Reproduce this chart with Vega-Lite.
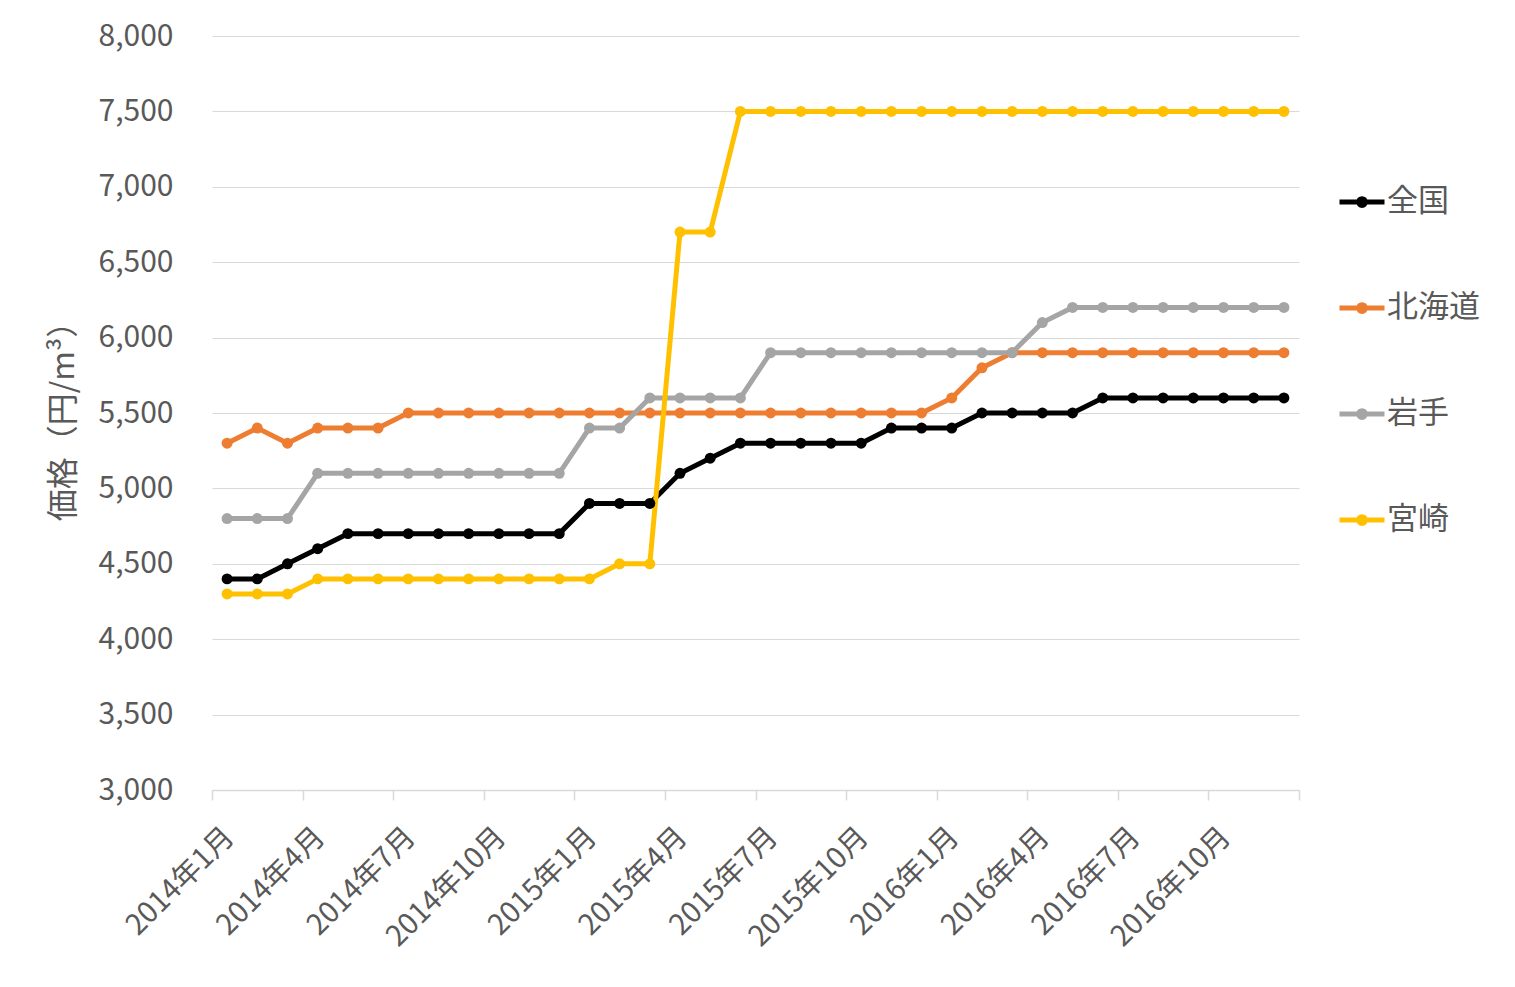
{
  "$schema": "https://vega.github.io/schema/vega-lite/v6.json",
  "autosize": {"type": "none"},
  "padding": {"left": 212, "top": 36, "right": 216, "bottom": 197},
  "width": 1087,
  "height": 754,
  "background": "white",
  "config": {"view": {"stroke": null}, "font": "Noto Sans CJK JP"},
  "datasets": {
    "prices": [
      {"month": "2014年1月", "region": "全国", "price": 4400},
      {"month": "2014年2月", "region": "全国", "price": 4400},
      {"month": "2014年3月", "region": "全国", "price": 4500},
      {"month": "2014年4月", "region": "全国", "price": 4600},
      {"month": "2014年5月", "region": "全国", "price": 4700},
      {"month": "2014年6月", "region": "全国", "price": 4700},
      {"month": "2014年7月", "region": "全国", "price": 4700},
      {"month": "2014年8月", "region": "全国", "price": 4700},
      {"month": "2014年9月", "region": "全国", "price": 4700},
      {"month": "2014年10月", "region": "全国", "price": 4700},
      {"month": "2014年11月", "region": "全国", "price": 4700},
      {"month": "2014年12月", "region": "全国", "price": 4700},
      {"month": "2015年1月", "region": "全国", "price": 4900},
      {"month": "2015年2月", "region": "全国", "price": 4900},
      {"month": "2015年3月", "region": "全国", "price": 4900},
      {"month": "2015年4月", "region": "全国", "price": 5100},
      {"month": "2015年5月", "region": "全国", "price": 5200},
      {"month": "2015年6月", "region": "全国", "price": 5300},
      {"month": "2015年7月", "region": "全国", "price": 5300},
      {"month": "2015年8月", "region": "全国", "price": 5300},
      {"month": "2015年9月", "region": "全国", "price": 5300},
      {"month": "2015年10月", "region": "全国", "price": 5300},
      {"month": "2015年11月", "region": "全国", "price": 5400},
      {"month": "2015年12月", "region": "全国", "price": 5400},
      {"month": "2016年1月", "region": "全国", "price": 5400},
      {"month": "2016年2月", "region": "全国", "price": 5500},
      {"month": "2016年3月", "region": "全国", "price": 5500},
      {"month": "2016年4月", "region": "全国", "price": 5500},
      {"month": "2016年5月", "region": "全国", "price": 5500},
      {"month": "2016年6月", "region": "全国", "price": 5600},
      {"month": "2016年7月", "region": "全国", "price": 5600},
      {"month": "2016年8月", "region": "全国", "price": 5600},
      {"month": "2016年9月", "region": "全国", "price": 5600},
      {"month": "2016年10月", "region": "全国", "price": 5600},
      {"month": "2016年11月", "region": "全国", "price": 5600},
      {"month": "2016年12月", "region": "全国", "price": 5600},

      {"month": "2014年1月", "region": "北海道", "price": 5300},
      {"month": "2014年2月", "region": "北海道", "price": 5400},
      {"month": "2014年3月", "region": "北海道", "price": 5300},
      {"month": "2014年4月", "region": "北海道", "price": 5400},
      {"month": "2014年5月", "region": "北海道", "price": 5400},
      {"month": "2014年6月", "region": "北海道", "price": 5400},
      {"month": "2014年7月", "region": "北海道", "price": 5500},
      {"month": "2014年8月", "region": "北海道", "price": 5500},
      {"month": "2014年9月", "region": "北海道", "price": 5500},
      {"month": "2014年10月", "region": "北海道", "price": 5500},
      {"month": "2014年11月", "region": "北海道", "price": 5500},
      {"month": "2014年12月", "region": "北海道", "price": 5500},
      {"month": "2015年1月", "region": "北海道", "price": 5500},
      {"month": "2015年2月", "region": "北海道", "price": 5500},
      {"month": "2015年3月", "region": "北海道", "price": 5500},
      {"month": "2015年4月", "region": "北海道", "price": 5500},
      {"month": "2015年5月", "region": "北海道", "price": 5500},
      {"month": "2015年6月", "region": "北海道", "price": 5500},
      {"month": "2015年7月", "region": "北海道", "price": 5500},
      {"month": "2015年8月", "region": "北海道", "price": 5500},
      {"month": "2015年9月", "region": "北海道", "price": 5500},
      {"month": "2015年10月", "region": "北海道", "price": 5500},
      {"month": "2015年11月", "region": "北海道", "price": 5500},
      {"month": "2015年12月", "region": "北海道", "price": 5500},
      {"month": "2016年1月", "region": "北海道", "price": 5600},
      {"month": "2016年2月", "region": "北海道", "price": 5800},
      {"month": "2016年3月", "region": "北海道", "price": 5900},
      {"month": "2016年4月", "region": "北海道", "price": 5900},
      {"month": "2016年5月", "region": "北海道", "price": 5900},
      {"month": "2016年6月", "region": "北海道", "price": 5900},
      {"month": "2016年7月", "region": "北海道", "price": 5900},
      {"month": "2016年8月", "region": "北海道", "price": 5900},
      {"month": "2016年9月", "region": "北海道", "price": 5900},
      {"month": "2016年10月", "region": "北海道", "price": 5900},
      {"month": "2016年11月", "region": "北海道", "price": 5900},
      {"month": "2016年12月", "region": "北海道", "price": 5900},

      {"month": "2014年1月", "region": "岩手", "price": 4800},
      {"month": "2014年2月", "region": "岩手", "price": 4800},
      {"month": "2014年3月", "region": "岩手", "price": 4800},
      {"month": "2014年4月", "region": "岩手", "price": 5100},
      {"month": "2014年5月", "region": "岩手", "price": 5100},
      {"month": "2014年6月", "region": "岩手", "price": 5100},
      {"month": "2014年7月", "region": "岩手", "price": 5100},
      {"month": "2014年8月", "region": "岩手", "price": 5100},
      {"month": "2014年9月", "region": "岩手", "price": 5100},
      {"month": "2014年10月", "region": "岩手", "price": 5100},
      {"month": "2014年11月", "region": "岩手", "price": 5100},
      {"month": "2014年12月", "region": "岩手", "price": 5100},
      {"month": "2015年1月", "region": "岩手", "price": 5400},
      {"month": "2015年2月", "region": "岩手", "price": 5400},
      {"month": "2015年3月", "region": "岩手", "price": 5600},
      {"month": "2015年4月", "region": "岩手", "price": 5600},
      {"month": "2015年5月", "region": "岩手", "price": 5600},
      {"month": "2015年6月", "region": "岩手", "price": 5600},
      {"month": "2015年7月", "region": "岩手", "price": 5900},
      {"month": "2015年8月", "region": "岩手", "price": 5900},
      {"month": "2015年9月", "region": "岩手", "price": 5900},
      {"month": "2015年10月", "region": "岩手", "price": 5900},
      {"month": "2015年11月", "region": "岩手", "price": 5900},
      {"month": "2015年12月", "region": "岩手", "price": 5900},
      {"month": "2016年1月", "region": "岩手", "price": 5900},
      {"month": "2016年2月", "region": "岩手", "price": 5900},
      {"month": "2016年3月", "region": "岩手", "price": 5900},
      {"month": "2016年4月", "region": "岩手", "price": 6100},
      {"month": "2016年5月", "region": "岩手", "price": 6200},
      {"month": "2016年6月", "region": "岩手", "price": 6200},
      {"month": "2016年7月", "region": "岩手", "price": 6200},
      {"month": "2016年8月", "region": "岩手", "price": 6200},
      {"month": "2016年9月", "region": "岩手", "price": 6200},
      {"month": "2016年10月", "region": "岩手", "price": 6200},
      {"month": "2016年11月", "region": "岩手", "price": 6200},
      {"month": "2016年12月", "region": "岩手", "price": 6200},

      {"month": "2014年1月", "region": "宮崎", "price": 4300},
      {"month": "2014年2月", "region": "宮崎", "price": 4300},
      {"month": "2014年3月", "region": "宮崎", "price": 4300},
      {"month": "2014年4月", "region": "宮崎", "price": 4400},
      {"month": "2014年5月", "region": "宮崎", "price": 4400},
      {"month": "2014年6月", "region": "宮崎", "price": 4400},
      {"month": "2014年7月", "region": "宮崎", "price": 4400},
      {"month": "2014年8月", "region": "宮崎", "price": 4400},
      {"month": "2014年9月", "region": "宮崎", "price": 4400},
      {"month": "2014年10月", "region": "宮崎", "price": 4400},
      {"month": "2014年11月", "region": "宮崎", "price": 4400},
      {"month": "2014年12月", "region": "宮崎", "price": 4400},
      {"month": "2015年1月", "region": "宮崎", "price": 4400},
      {"month": "2015年2月", "region": "宮崎", "price": 4500},
      {"month": "2015年3月", "region": "宮崎", "price": 4500},
      {"month": "2015年4月", "region": "宮崎", "price": 6700},
      {"month": "2015年5月", "region": "宮崎", "price": 6700},
      {"month": "2015年6月", "region": "宮崎", "price": 7500},
      {"month": "2015年7月", "region": "宮崎", "price": 7500},
      {"month": "2015年8月", "region": "宮崎", "price": 7500},
      {"month": "2015年9月", "region": "宮崎", "price": 7500},
      {"month": "2015年10月", "region": "宮崎", "price": 7500},
      {"month": "2015年11月", "region": "宮崎", "price": 7500},
      {"month": "2015年12月", "region": "宮崎", "price": 7500},
      {"month": "2016年1月", "region": "宮崎", "price": 7500},
      {"month": "2016年2月", "region": "宮崎", "price": 7500},
      {"month": "2016年3月", "region": "宮崎", "price": 7500},
      {"month": "2016年4月", "region": "宮崎", "price": 7500},
      {"month": "2016年5月", "region": "宮崎", "price": 7500},
      {"month": "2016年6月", "region": "宮崎", "price": 7500},
      {"month": "2016年7月", "region": "宮崎", "price": 7500},
      {"month": "2016年8月", "region": "宮崎", "price": 7500},
      {"month": "2016年9月", "region": "宮崎", "price": 7500},
      {"month": "2016年10月", "region": "宮崎", "price": 7500},
      {"month": "2016年11月", "region": "宮崎", "price": 7500},
      {"month": "2016年12月", "region": "宮崎", "price": 7500}
    ]
  },
  "data": {"name": "prices"},
  "mark": {"type": "line", "strokeWidth": 5, "point": {"size": 120, "filled": true}},
  "encoding": {
    "x": {
      "field": "month",
      "type": "ordinal",
      "sort": null,
      "scale": {"type": "band", "paddingInner": 0, "paddingOuter": 0},
      "axis": {
        "title": null,
        "tickBand": "extent",
        "labelExpr": "indexof(domain('x'), datum.value) % 3 === 0 ? datum.label : ''",
        "labelOverlap": false,
        "labelAngle": -45,
        "labelFontSize": 29,
        "labelColor": "#595959",
        "labelPadding": 22,
        "labelOffset": -8,
        "domainColor": "#D9D9D9",
        "domainWidth": 1.5,
        "tickColor": {
          "condition": {"test": "datum.extra || indexof(domain('x'), datum.value) % 3 === 2", "value": "#D9D9D9"},
          "value": "transparent"
        },
        "tickWidth": 1.5,
        "tickSize": 10,
        "grid": false
      }
    },
    "y": {
      "field": "price",
      "type": "quantitative",
      "scale": {"domain": [3000, 8000], "nice": false, "zero": false},
      "axis": {
        "title": "価格（円/m³）",
        "values": [3000, 3500, 4000, 4500, 5000, 5500, 6000, 6500, 7000, 7500, 8000],
        "format": ",d",
        "grid": true,
        "gridColor": "#D9D9D9",
        "gridWidth": 1,
        "domain": false,
        "ticks": false,
        "tickSize": 0,
        "labelFontSize": 30,
        "labelColor": "#595959",
        "labelPadding": 39,
        "titleFontSize": 32,
        "titleColor": "#595959",
        "titleFontWeight": "normal",
        "titlePadding": 18
      }
    },
    "color": {
      "field": "region",
      "type": "nominal",
      "scale": {"domain": ["全国", "北海道", "岩手", "宮崎"], "range": ["#000000", "#ED7D31", "#A5A5A5", "#FFC000"]},
      "legend": {
        "title": null,
        "orient": "none",
        "legendX": 1125,
        "legendY": 141,
        "padding": 0,
        "labelFontSize": 31,
        "labelColor": "#595959",
        "labelOffset": 0,
        "symbolType": "M-1,0L1,0M-0.15,0A0.15,0.15 0 1,1 0.15,0A0.15,0.15 0 1,1 -0.15,0Z",
        "symbolSize": 2025,
        "symbolStrokeWidth": 5,
        "rowPadding": 66
      }
    }
  }
}
